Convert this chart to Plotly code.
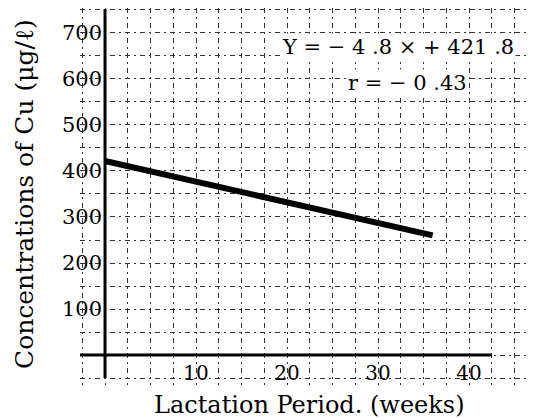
import plotly.graph_objects as go

# ---- data ----
line_weeks = [0, 36]            # regression line extent (weeks)
line_cu = [421.8, 260.0]        # Cu concentration at the ends (ug/l)
x_tick_vals = [10, 20, 30, 40]
x_tick_text = ["10", "20", "30", "40"]
y_tick_vals = [100, 200, 300, 400, 500, 600, 700]
y_tick_text = ["100", "200", "300", "400", "500", "600", "700"]
equation_text = "Y = − 4 .8 × + 421 .8"
r_text = "r = − 0 .43"

X_RANGE = [-2.75, 46.7]
Y_RANGE = [-65.2, 754.3]
X_AXIS_EXTENT = [-2.75, 42.5]
Y_AXIS_EXTENT = [-50, 752]

FONT = "DejaVu Serif"
GRID = dict(gridcolor="#333", gridwidth=1, griddash="5px,4px,2px,4px")

fig = go.Figure()
fig.add_trace(go.Scatter(x=line_weeks, y=line_cu, mode="lines",
                         line=dict(color="black", width=6), showlegend=False,
                         hoverinfo="skip"))

x_pos = (0 - Y_RANGE[0]) / (Y_RANGE[1] - Y_RANGE[0])
y_pos = (0 - X_RANGE[0]) / (X_RANGE[1] - X_RANGE[0])

# the page body adds an 8px offset; figure is sized to compensate
fig.update_layout(
    width=527, height=411,
    margin=dict(l=72, r=5, t=0, b=34, autoexpand=False),
    paper_bgcolor="white", plot_bgcolor="white",
    font=dict(family=FONT, size=20, color="black"),
    xaxis=dict(range=X_RANGE, tickvals=x_tick_vals, ticktext=x_tick_text,
               showgrid=True, zeroline=False, showline=False, automargin=False,
               anchor="free", position=x_pos, ticks="", ticklabelstandoff=4,
               tickfont=dict(family=FONT, size=20),
               minor=dict(dtick=2.5, tick0=0, showgrid=True, **GRID), **GRID),
    yaxis=dict(range=Y_RANGE, tickvals=y_tick_vals, ticktext=y_tick_text,
               showgrid=True, zeroline=False, showline=False, automargin=False,
               anchor="free", position=y_pos, ticks="", ticklabelstandoff=3,
               tickfont=dict(family=FONT, size=21),
               minor=dict(dtick=50, tick0=0, showgrid=True, **GRID), **GRID),
)

# axis lines
fig.add_shape(type="line", x0=X_AXIS_EXTENT[0], x1=X_AXIS_EXTENT[1], y0=0, y1=0,
              xref="x", yref="y", line=dict(color="black", width=3))
fig.add_shape(type="line", x0=0, x1=0, y0=Y_AXIS_EXTENT[0], y1=Y_AXIS_EXTENT[1],
              xref="x", yref="y", line=dict(color="black", width=3))

ANN = dict(xref="paper", yref="paper", showarrow=False,
           xanchor="center", yanchor="middle")
fig.add_annotation(text=equation_text, x=0.707, y=0.897, bgcolor="white",
                   font=dict(family=FONT, size=21), **ANN)
fig.add_annotation(text=r_text, x=0.727, y=0.801, bgcolor="white",
                   font=dict(family=FONT, size=21), **ANN)
fig.add_annotation(text="Lactation Period. (weeks)", x=0.509, y=-0.053,
                   font=dict(family=FONT, size=24), **ANN)
fig.add_annotation(text="Concentrations of Cu (μg/ℓ)", x=-0.125, y=0.506,
                   textangle=-90, font=dict(family=FONT, size=25), **ANN)

fig.write_html("out.html")
